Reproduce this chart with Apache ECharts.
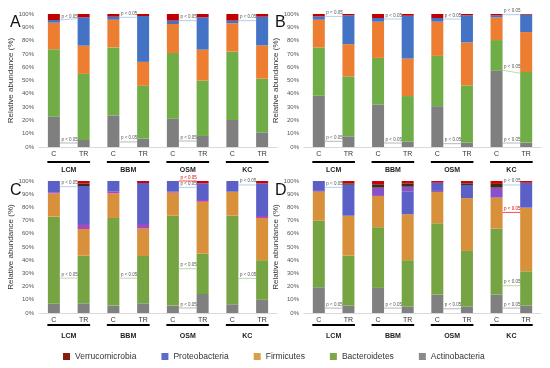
<!DOCTYPE html>
<html><head><meta charset="utf-8">
<script src="https://cdn.jsdelivr.net/npm/echarts@6/dist/echarts.min.js"></script>
<style>html,body{margin:0;padding:0;background:#fff}#c{width:550px;height:368px}</style>
</head><body><div id="c"></div><script>
// ---- data ----
const categories = ['C','TR','C','TR','C','TR','C','TR'];
const groups = ['LCM','BBM','OSM','KC'];
const panelLetters = ['A','B','C','D'];
const yTicks = [0,10,20,30,40,50,60,70,80,90,100];

// Panel A
const A_Actinobacteria  = [23.0, 5.3, 23.8, 6.3, 21.3, 8.3, 20.3, 11.0];
const A_Bacteroidetes   = [50.5, 49.7, 51.1, 39.7, 49.4, 41.6, 51.4, 40.4];
const A_Firmicutes      = [20.0, 21.2, 20.8, 18.0, 21.8, 23.3, 21.3, 25.0];
const A_Proteobacteria  = [2.0, 21.3, 2.3, 34.5, 2.5, 24.3, 2.0, 21.6];
const A_Verrucomicrobia = [4.5, 2.5, 2.0, 1.5, 5.0, 2.5, 5.0, 2.0];
// Panel B
const B_Actinobacteria  = [38.5, 8.0, 32.0, 4.0, 30.7, 3.3, 57.7, 3.3];
const B_Bacteroidetes   = [36.3, 45.1, 35.0, 34.3, 37.8, 43.0, 22.7, 53.1];
const B_Firmicutes      = [20.9, 24.2, 27.2, 28.2, 25.7, 32.3, 17.1, 30.0];
const B_Proteobacteria  = [2.5, 21.7, 2.8, 32.2, 2.8, 20.4, 1.5, 13.1];
const B_Verrucomicrobia = [1.8, 1.0, 3.0, 1.3, 3.0, 1.0, 1.0, 0.5];
// Panel C
const C_Actinobacteria  = [7.0, 7.3, 5.6, 7.3, 5.6, 14.4, 6.6, 10.0];
const C_Bacteroidetes   = [66.0, 36.1, 66.4, 35.9, 68.1, 30.6, 67.1, 30.0];
const C_Firmicutes      = [17.6, 20.2, 18.6, 20.8, 17.5, 39.3, 18.2, 32.0];
const C_OtherA          = [0.9, 3.1, 1.3, 2.7, 0.7, 1.3, 0.0, 1.5];
const C_Proteobacteria  = [8.5, 29.5, 8.1, 31.8, 8.1, 12.6, 8.1, 24.7];
const C_OtherB          = [0, 0, 0, 0, 0, 0, 0, 0];
const C_OtherC          = [0, 1.8, 0, 0, 0, 0, 0, 0];
const C_Verrucomicrobia = [0, 2.0, 0, 1.5, 0, 1.8, 0, 1.8];
// Panel D
const D_Actinobacteria  = [19.5, 5.6, 19.0, 5.0, 14.0, 5.0, 14.0, 5.6];
const D_Bacteroidetes   = [50.5, 37.9, 46.0, 35.0, 54.0, 42.0, 50.0, 26.0];
const D_Firmicutes      = [21.9, 30.2, 23.7, 34.8, 23.7, 40.0, 23.4, 48.2];
const D_OtherA          = [0.6, 0, 0, 0, 0.8, 0, 0, 0];
const D_Proteobacteria  = [7.5, 23.5, 0, 17.4, 6.2, 10.0, 0, 18.9];
const D_OtherB          = [0, 0, 6.3, 3.5, 0, 0, 7.6, 0];
const D_OtherC          = [0, 1.0, 2.5, 2.5, 0, 1.2, 2.8, 0];
const D_Verrucomicrobia = [0, 1.8, 2.5, 1.8, 1.3, 1.8, 2.2, 1.3];

// significance notes: [panel, group, value at C, value at TR, kind]
const pNotes = [
  [0,0,95.5,96.5,'b'],[0,0,3,3,'g'],[0,1,97.5,97.5,'b'],[0,1,3.8,3.8,'g'],[0,2,95,95,'b'],[0,2,4.5,4.5,'g'],[0,3,95,95,'b'],
  [1,0,98.2,98.2,'b'],[1,0,4.3,4.3,'g'],[1,1,96.2,96.2,'b'],[1,1,3,3,'g'],[1,2,96.2,96.2,'b'],[1,2,2.5,2.5,'g'],[1,3,99.5,99.5,'b'],[1,3,57.7,55.5,'gr'],[1,3,3,3,'g'],
  [2,0,95.7,95.7,'b'],[2,0,26.4,26.4,'gr'],[2,1,26.4,26.4,'gr'],[2,2,100,100,'r'],[2,2,95.2,95.2,'b'],[2,2,33.5,33.5,'gr'],[2,2,3.8,3.8,'g'],[2,3,97,97,'b'],[2,3,26.2,26.2,'gr'],
  [3,0,95.2,95.2,'b'],[3,0,3.7,3.7,'g'],[3,1,3.7,3.7,'g'],[3,2,3.2,3.2,'g'],[3,3,97,97,'b'],[3,3,76.2,76.2,'r'],[3,3,20.7,20.7,'gr'],[3,3,3.7,3.7,'g']
];

// ---- styling ----
const FONT = '"Liberation Sans", Arial, sans-serif';
const colAB = {Actinobacteria:'#7F7F7F', Bacteroidetes:'#70AD47', Firmicutes:'#ED7D31', Proteobacteria:'#4472C4', Verrucomicrobia:'#C00000'};
const colCD = {Actinobacteria:'#808080', Bacteroidetes:'#77A443', Firmicutes:'#D8913A', OtherA:'#B044B8', Proteobacteria:'#5A60C6', OtherB:'#8A50C8', OtherC:'#3D2C14', Verrucomicrobia:'#CC0008'};
const legendCol = {Verrucomicrobia:'#8B1A10', Proteobacteria:'#5B6ACB', Firmicutes:'#D8A048', Bacteroidetes:'#7DA84A', Actinobacteria:'#8A8A8A'};
const lineCol = {b:'#9DC3E6', g:'#A6A6A6', gr:'#A9D18E', r:'#FF2020'};

const panels = [
  {keys:['Actinobacteria','Bacteroidetes','Firmicutes','Proteobacteria','Verrucomicrobia'], data:[A_Actinobacteria,A_Bacteroidetes,A_Firmicutes,A_Proteobacteria,A_Verrucomicrobia], col:colAB},
  {keys:['Actinobacteria','Bacteroidetes','Firmicutes','Proteobacteria','Verrucomicrobia'], data:[B_Actinobacteria,B_Bacteroidetes,B_Firmicutes,B_Proteobacteria,B_Verrucomicrobia], col:colAB},
  {keys:['Actinobacteria','Bacteroidetes','Firmicutes','OtherA','Proteobacteria','OtherB','OtherC','Verrucomicrobia'], data:[C_Actinobacteria,C_Bacteroidetes,C_Firmicutes,C_OtherA,C_Proteobacteria,C_OtherB,C_OtherC,C_Verrucomicrobia], col:colCD},
  {keys:['Actinobacteria','Bacteroidetes','Firmicutes','OtherA','Proteobacteria','OtherB','OtherC','Verrucomicrobia'], data:[D_Actinobacteria,D_Bacteroidetes,D_Firmicutes,D_OtherA,D_Proteobacteria,D_OtherB,D_OtherC,D_Verrucomicrobia], col:colCD}
];

const gridPos = [
  {left:39, width:238, top:14, height:133},
  {left:304, width:237, top:14, height:133},
  {left:39, width:238, top:181, height:132},
  {left:304, width:237, top:181, height:132}
];
const underlineOffset = [15,15,12,12];
const letterPos = [[5,10],[270,10],[5,178],[270,178]];

const grids = [], xAxes = [], yAxes = [], series = [], titles = [];
panels.forEach((p, i) => {
  grids.push(Object.assign({containLabel:false}, gridPos[i]));
  xAxes.push({gridIndex:i, type:'category', data:categories,
    axisLine:{show:true, lineStyle:{color:'#d9d9d9', width:1}}, axisTick:{show:false},
    axisLabel:{fontSize:7, color:'#333', margin:4, fontFamily:FONT}});
  xAxes.push({gridIndex:i, type:'category', data:groups, position:'bottom', offset:16,
    axisLine:{show:false}, axisTick:{show:false},
    axisLabel:{fontSize:7, fontWeight:'bold', color:'#222', margin:4, fontFamily:FONT}});
  yAxes.push({gridIndex:i, type:'value', min:yTicks[0], max:yTicks[yTicks.length-1], interval:10,
    axisLine:{show:false}, axisTick:{show:false}, splitLine:{show:false},
    axisLabel:{formatter:'{value}%', fontSize:6, color:'#555', margin:5, fontFamily:FONT},
    name:'Relative abundance (%)', nameLocation:'middle', nameGap:20, nameRotate:90,
    nameTextStyle:{fontSize:8, color:'#333', fontFamily:FONT}});
  p.keys.forEach((k, j) => {
    series.push({type:'bar', name:k, stack:'s'+i, xAxisIndex:2*i, yAxisIndex:i,
      data:p.data[j], barWidth:12, itemStyle:{color:p.col[k]}, silent:true,
      emphasis:{disabled:true}, animation:false});
  });
  titles.push({text:panelLetters[i], left:letterPos[i][0], top:letterPos[i][1],
    textStyle:{fontSize:16, fontWeight:'normal', color:'#111', fontFamily:FONT}});
});

const legendOrder = ['Verrucomicrobia','Proteobacteria','Firmicutes','Bacteroidetes','Actinobacteria'];
const chart = echarts.init(document.getElementById('c'), null, {renderer:'canvas'});
chart.setOption({
  animation:false,
  backgroundColor:'#fff',
  title:titles,
  grid:grids, xAxis:xAxes, yAxis:yAxes, series:series,
  legend:{left:58, top:347, itemWidth:7, itemHeight:7, itemGap:25, icon:'rect', selectedMode:false,
    textStyle:{fontSize:8.5, color:'#333', fontFamily:FONT},
    data:legendOrder.map(n => ({name:n, itemStyle:{color:legendCol[n]}}))}
});

// decorations derived from axis scales
const graphics = [];
const half = 6;
for (let i = 0; i < 4; i++) {
  for (let g = 0; g < groups.length; g++) {
    const a = chart.convertToPixel({xAxisIndex:2*i, yAxisIndex:i}, [2*g, 0]);
    const b = chart.convertToPixel({xAxisIndex:2*i, yAxisIndex:i}, [2*g+1, 0]);
    const y = a[1] + underlineOffset[i];
    graphics.push({type:'line', silent:true, shape:{x1:a[0]-half-0.5, y1:y, x2:b[0]+half+0.5, y2:y},
      style:{stroke:'#000', lineWidth:2}});
  }
}
pNotes.forEach(n => {
  const [i, g, vc, vt, kind] = n;
  const a = chart.convertToPixel({xAxisIndex:2*i, yAxisIndex:i}, [2*g, vc]);
  const b = chart.convertToPixel({xAxisIndex:2*i, yAxisIndex:i}, [2*g+1, vt]);
  const x1 = a[0] + half, x2 = b[0] - half;
  graphics.push({type:'line', silent:true, z:10, shape:{x1:x1, y1:a[1], x2:x2, y2:b[1]},
    style:{stroke:lineCol[kind], lineWidth:0.8}});
  graphics.push({type:'text', silent:true, z:10, x:x1+1.5, y:a[1]-1.2,
    style:{text:'p < 0.05', fontSize:4.5, fill:kind==='r' ? '#E00000' : '#555', fontFamily:FONT,
      textVerticalAlign:'bottom', verticalAlign:'bottom'}});
});
chart.setOption({graphic:graphics});
</script></body></html>
